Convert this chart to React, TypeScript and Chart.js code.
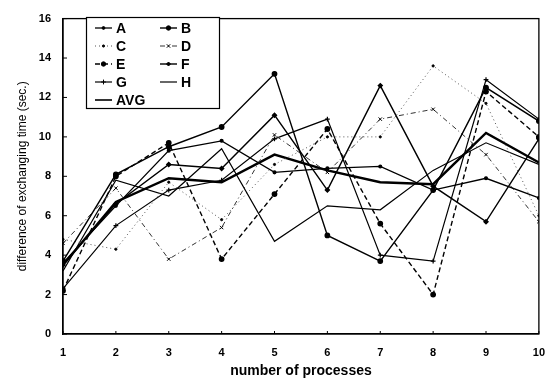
import React, { useEffect, useRef } from 'react';
import { Chart, registerables } from 'chart.js';
import { drawPoint } from 'chart.js/helpers';

Chart.register(...registerables);

const processes = [1, 2, 3, 4, 5, 6, 7, 8, 9, 10];
const seriesA = [3.6, 6.5, 9.3, 9.8, 8.2, 8.4, 8.5, 7.3, 7.9, 6.9];
const seriesB = [3.7, 8.1, 9.5, 10.5, 13.2, 5.0, 3.7, 7.3, 12.5, 10.8];
const seriesC = [4.8, 4.3, 7.7, 5.8, 8.6, 10.0, 10.0, 13.6, 11.7, 6.0];
const seriesD = [4.6, 7.4, 3.8, 5.4, 10.1, 8.2, 10.9, 11.4, 9.1, 5.7];
const seriesE = [2.2, 8.0, 9.7, 3.8, 7.1, 10.4, 5.6, 2.0, 12.3, 10.0];
const seriesF = [3.5, 6.6, 8.6, 8.4, 11.1, 7.3, 12.6, 7.5, 5.7, 9.9];
const seriesG = [2.3, 5.5, 7.3, 7.8, 9.9, 10.9, 4.0, 3.7, 12.9, 10.9];
const seriesH = [3.2, 7.8, 7.0, 9.4, 4.7, 6.5, 6.3, 8.3, 9.7, 8.6];
const seriesAVG = [3.5, 6.7, 7.9, 7.7, 9.1, 8.3, 7.7, 7.6, 10.2, 8.7];

const seriesLabels = ['A', 'B', 'C', 'D', 'E', 'F', 'G', 'H', 'AVG'];
const yTicks = [0, 2, 4, 6, 8, 10, 12, 14, 16];

const FONT = '"Liberation Sans", Arial, sans-serif';

const pts = (vals: number[]) => vals.map((v, i) => ({ x: processes[i], y: v }));

const legendPlugin = {
  id: 'boxLegend',
  afterDraw(chart: any) {
    const ctx = chart.ctx;
    ctx.save();
    ctx.fillStyle = '#fff';
    ctx.fillRect(86, 17, 133, 91);
    ctx.strokeStyle = '#000';
    ctx.lineWidth = 1.2;
    ctx.setLineDash([]);
    ctx.strokeRect(86.5, 17.5, 133, 91);
    chart.data.datasets.forEach((ds: any, i: number) => {
      const col = i % 2;
      const row = Math.floor(i / 2);
      const x0 = col ? 160 : 95;
      const y = 28 + row * 18;
      ctx.save();
      ctx.strokeStyle = ds.borderColor;
      ctx.lineWidth = Math.min(ds.borderWidth, 1.6);
      ctx.setLineDash(ds.borderDash || []);
      ctx.beginPath();
      ctx.moveTo(x0, y);
      ctx.lineTo(x0 + 17, y);
      ctx.stroke();
      ctx.setLineDash([]);
      if (ds.pointRadius > 0) {
        ctx.fillStyle = ds.pointBackgroundColor;
        ctx.strokeStyle = ds.pointBorderColor;
        ctx.lineWidth = 1;
        drawPoint(ctx, { pointStyle: ds.pointStyle, radius: ds.pointRadius, rotation: 0, borderWidth: 1 }, x0 + 8.5, y);
      }
      ctx.restore();
      ctx.fillStyle = '#000';
      ctx.font = `bold 14px ${FONT}`;
      ctx.textBaseline = 'middle';
      ctx.textAlign = 'left';
      ctx.fillText(ds.label, x0 + 21, y + 1);
    });
    ctx.restore();
  },
};

const framePlugin = {
  id: 'frame',
  afterDatasetsDraw(chart: any) {
    const { ctx, chartArea, scales } = chart;
    ctx.save();
    ctx.strokeStyle = '#000';
    ctx.lineWidth = 1.3;
    ctx.setLineDash([]);
    ctx.strokeRect(chartArea.left, chartArea.top, chartArea.right - chartArea.left, chartArea.bottom - chartArea.top);
    ctx.lineWidth = 1;
    scales.y.ticks.forEach((t: any) => {
      const yy = scales.y.getPixelForValue(t.value);
      ctx.beginPath();
      ctx.moveTo(chartArea.left, yy);
      ctx.lineTo(chartArea.left + 4, yy);
      ctx.stroke();
    });
    scales.x.ticks.forEach((t: any) => {
      const xx = scales.x.getPixelForValue(t.value);
      ctx.beginPath();
      ctx.moveTo(xx, chartArea.bottom);
      ctx.lineTo(xx, chartArea.bottom - 3);
      ctx.stroke();
    });
    ctx.restore();
  },
};

export default function App() {
  const ref = useRef<HTMLCanvasElement | null>(null);

  useEffect(() => {
    document.body.style.margin = '0';
    if (!ref.current) return;
    const mk = (label: string, vals: number[], o: any) => ({
      label,
      data: pts(vals),
      borderColor: '#000',
      backgroundColor: '#000',
      pointBackgroundColor: '#000',
      pointBorderColor: '#000',
      borderWidth: 1.3,
      pointRadius: 1.5,
      pointStyle: 'circle',
      borderDash: [],
      tension: 0,
      ...o,
    });
    const datasets = [
      mk(seriesLabels[0], seriesA, { pointRadius: 1.4 }),
      mk(seriesLabels[1], seriesB, { pointRadius: 2.2, borderWidth: 1.4 }),
      mk(seriesLabels[2], seriesC, { borderColor: '#555', borderWidth: 1, borderDash: [1, 3], pointRadius: 1.1 }),
      mk(seriesLabels[3], seriesD, { borderColor: '#333', borderWidth: 1, borderDash: [5, 3, 1, 3], pointStyle: 'crossRot', pointRadius: 2.4 }),
      mk(seriesLabels[4], seriesE, { borderWidth: 1.4, borderDash: [5, 3], pointRadius: 2.2 }),
      mk(seriesLabels[5], seriesF, { borderWidth: 1.4, pointStyle: 'rectRot', pointRadius: 2 }),
      mk(seriesLabels[6], seriesG, { borderWidth: 1.2, pointStyle: 'cross', pointRadius: 2.4 }),
      mk(seriesLabels[7], seriesH, { borderWidth: 1.2, pointRadius: 0 }),
      mk(seriesLabels[8], seriesAVG, { borderWidth: 2.4, pointRadius: 0 }),
    ];
    const chart = new Chart(ref.current, {
      type: 'line',
      data: { datasets },
      options: {
        animation: false,
        responsive: true,
        maintainAspectRatio: false,
        layout: { padding: { top: 13, right: 10, left: 0, bottom: 0 } },
        plugins: { legend: { display: false }, tooltip: { enabled: false } },
        scales: {
          x: {
            type: 'linear',
            min: processes[0],
            max: processes[processes.length - 1],
            grid: { display: false, drawTicks: false },
            border: { display: true, color: '#000', width: 1.3 },
            ticks: {
              stepSize: 1,
              color: '#000',
              padding: 12,
              font: { family: FONT, size: 11, weight: 'bold' },
            },
            title: {
              display: true,
              text: 'number of processes',
              color: '#000',
              font: { family: FONT, size: 14, weight: 'bold' },
              padding: { top: 0, bottom: 1 },
            },
            afterFit: (s: any) => { s.height = 47; },
          },
          y: {
            type: 'linear',
            min: yTicks[0],
            max: yTicks[yTicks.length - 1],
            grid: { display: false, drawTicks: false },
            border: { display: true, color: '#000', width: 1.3 },
            afterBuildTicks: (s: any) => { s.ticks = yTicks.map((v) => ({ value: v })); },
            ticks: {
              color: '#000',
              padding: 12,
              font: { family: FONT, size: 11, weight: 'bold' },
            },
            title: {
              display: true,
              text: 'difference of exchanging time (sec.)',
              color: '#000',
              font: { family: FONT, size: 12 },
              padding: { top: 15, bottom: 0 },
            },
            afterFit: (s: any) => { s.width = 63; },
          },
        },
      },
      plugins: [framePlugin, legendPlugin],
    });
    return () => chart.destroy();
  }, []);

  return (
    <div style={{ width: 557, height: 381, position: 'relative', background: '#fff' }}>
      <canvas ref={ref} style={{ width: 557, height: 381 }} />
    </div>
  );
}
